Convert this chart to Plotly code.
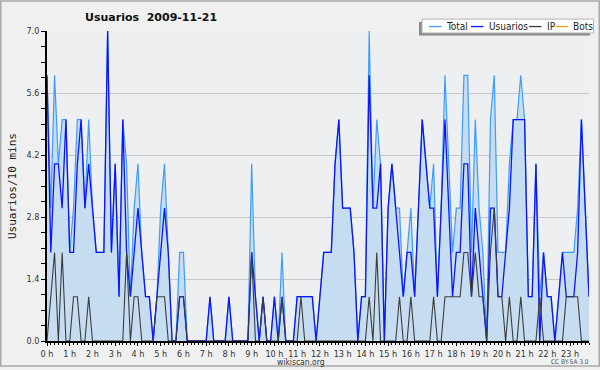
import plotly.graph_objects as go

# ---- data (users per 10-minute slot, 2009-11-21) ----
slots = list(range(144))  # 10-minute slot index, 0 = 00:00
total = [6,3,6,4,5,5,2,3,5,5, 3,5,3,2,2,2,7,2,4,1, 5,4,1,3,4,2,1,1,0,1,
         3,4,2,0,0,2,2,0,0,0, 0,0,0,1,0,0,0,0,1,0, 0,0,0,0,4,1,0,1,0,0,
         1,0,2,0,0,0,1,1,1,1, 1,0,1,2,2,2,4,5,3,3, 3,2,0,1,1,7,3,5,4,0,
         3,4,3,3,1,2,3,1,3,5, 4,3,4,1,3,6,4,2,3,3, 6,6,2,5,3,2,0,5,6,2,
         2,2,4,5,5,6,5,1,1,4, 1,2,1,1,0,1,2,2,2,2, 3,5,3,1]
usuarios = [6,2,4,4,3,5,2,2,4,5, 3,4,3,2,2,2,7,2,4,1, 5,2,1,2,3,2,1,1,0,1,
            2,3,2,0,0,1,1,0,0,0, 0,0,0,1,0,0,0,0,1,0, 0,0,0,0,2,1,0,1,0,0,
            1,0,1,0,0,0,1,1,1,1, 1,0,1,2,2,2,4,5,3,3, 3,2,0,1,1,6,3,3,4,0,
            3,4,3,2,1,2,2,1,3,5, 4,3,3,1,3,5,3,1,2,2, 4,4,1,3,2,1,0,3,3,1,
            1,2,3,5,5,5,5,1,1,4, 0,2,1,1,0,1,2,1,1,1, 2,5,3,1]
ip = [0,1,2,0,2,0,0,1,1,0, 0,1,0,0,0,0,0,0,0,0, 0,2,0,1,1,0,0,0,0,1,
      1,1,0,0,0,1,1,0,0,0, 0,0,0,0,0,0,0,0,0,0, 0,0,0,0,2,0,0,1,0,0,
      0,0,1,0,0,0,0,1,0,0, 0,0,0,0,0,0,0,0,0,0, 0,0,0,0,0,1,0,2,0,0,
      0,0,0,1,0,0,1,0,0,0, 0,0,1,0,0,1,1,1,1,1, 2,2,1,2,1,1,0,2,3,1,
      1,0,1,0,0,1,0,0,0,0, 1,0,0,0,0,0,0,1,1,1, 1,0,0,0]
bots = [0] * 144
hour_ticks = [6 * h for h in range(24)]
hour_labels = [f"{h} h" for h in range(24)]
y_ticks = [0, 1.4, 2.8, 4.2, 5.6, 7.0]
y_labels = ["0.0", "1.4", "2.8", "4.2", "5.6", "7.0"]
series_names = ["Total", "Usuarios", "IP", "Bots"]

# ---- style ----
FONT = "DejaVu Sans Condensed, DejaVu Sans"
C_TOTAL = "#3d9cff"
C_FILL = "#c6ddf1"
C_USU = "#0c14ff"
C_IP = "#3c3c3c"
C_BOTS = "#ffa31a"

W_PX, H_PX = 600, 370
L, R, T, B = 47, 11, 31, 26
PW, PH = W_PX - L - R, H_PX - T - B


def px(x):
    return (x - L) / PW


def py(y):
    return (H_PX - B - y) / PH


fig = go.Figure()
fig.add_trace(go.Scatter(x=slots, y=bots, mode="lines", line=dict(color=C_BOTS, width=1),
                         name="Bots", showlegend=False))
fig.add_trace(go.Scatter(x=slots, y=total, mode="lines", fill="tozeroy", fillcolor=C_FILL,
                         line=dict(color=C_TOTAL, width=1.2), name="Total", showlegend=False))
fig.add_trace(go.Scatter(x=slots, y=usuarios, mode="lines", line=dict(color=C_USU, width=1.3),
                         name="Usuarios", showlegend=False))
fig.add_trace(go.Scatter(x=slots, y=ip, mode="lines", line=dict(color=C_IP, width=1.1),
                         name="IP", showlegend=False))

shapes = []
annotations = []

# outer frame
shapes.append(dict(type="rect", xref="paper", yref="paper", x0=px(0.75), x1=px(599.25),
                   y0=py(0.75), y1=py(369.25), line=dict(color="#a8a8a8", width=1.5),
                   fillcolor="rgba(0,0,0,0)", layer="above"))

# legend box with shadow
shapes.append(dict(type="rect", xref="paper", yref="paper", x0=px(419), x1=px(590),
                   y0=py(22), y1=py(35.5), line=dict(width=0), fillcolor="#8a8a8a", layer="above"))
shapes.append(dict(type="rect", xref="paper", yref="paper", x0=px(422), x1=px(593.5),
                   y0=py(19), y1=py(33), line=dict(color="#b4b4b4", width=1), fillcolor="#ffffff",
                   layer="above"))
leg_items = [(series_names[0], C_TOTAL, 429, 444), (series_names[1], C_USU, 471, 486.5),
             (series_names[2], C_IP, 529, 545), (series_names[3], C_BOTS, 555.5, 571)]
for name, col, lx, tx in leg_items:
    shapes.append(dict(type="line", xref="paper", yref="paper", x0=px(lx), x1=px(lx + 12.5),
                       y0=py(26.5), y1=py(26.5), line=dict(color=col, width=1.3), layer="above"))
    annotations.append(dict(text=name, xref="paper", yref="paper", x=px(tx), y=py(26.5),
                            xanchor="left", yanchor="middle", showarrow=False,
                            font=dict(family=FONT, size=10, color="#222222")))

# title
annotations.append(dict(text="<b>Usuarios\u00a0\u00a02009-11-21</b>", xref="paper", yref="paper",
                        x=px(151), y=py(17), xanchor="center", yanchor="middle", showarrow=False,
                        font=dict(family="DejaVu Sans", size=11, color="#111111")))
# y label
annotations.append(dict(text="Usuarios/10 mins", xref="paper", yref="paper", x=px(12), y=py(187.5),
                        xanchor="center", yanchor="middle", textangle=-90, showarrow=False,
                        font=dict(family="DejaVu Sans Mono", size=11, color="#222222")))
# footer
annotations.append(dict(text="wikiscan.org", xref="paper", yref="paper", x=px(301), y=py(365),
                        xanchor="center", yanchor="middle", showarrow=False, borderpad=0,
                        font=dict(family=FONT, size=8.5, color="#333333")))
annotations.append(dict(text="CC BY-SA 3.0", xref="paper", yref="paper", x=px(590), y=py(365.5),
                        xanchor="right", yanchor="middle", showarrow=False, borderpad=0,
                        font=dict(family=FONT, size=6.5, color="#555555")))

fig.update_layout(
    width=W_PX, height=H_PX,
    margin=dict(l=L, r=R, t=T, b=B, pad=0),
    paper_bgcolor="#f0f0f0",
    plot_bgcolor="#eeeff1",
    showlegend=False,
    shapes=shapes,
    annotations=annotations,
    xaxis=dict(range=[0, 143], tickvals=hour_ticks, ticktext=hour_labels,
               ticks="outside", ticklen=3, tickcolor="#000000", tickwidth=1,
               showline=True, linecolor="#000000", linewidth=1.5, showgrid=False,
               zeroline=False, tickfont=dict(family=FONT, size=9, color="#333333"),
               minor=dict(dtick=1, tick0=0, ticks="outside", ticklen=2.5, tickcolor="#000000",
                          showgrid=False),
               fixedrange=True),
    yaxis=dict(range=[0, 7.0], tickvals=y_ticks, ticktext=y_labels,
               ticks="outside", ticklen=4, tickcolor="#000000", tickwidth=1,
               showline=True, linecolor="#000000", linewidth=1.5,
               showgrid=True, gridcolor="#c8c8c8", gridwidth=1, zeroline=False,
               tickfont=dict(family=FONT, size=9, color="#333333"),
               minor=dict(dtick=0.35, tick0=0, ticks="outside", ticklen=4, tickcolor="#000000",
                          showgrid=False),
               fixedrange=True),
)

fig.write_html("out.html", config={"displayModeBar": False},
               post_script="document.body.style.margin='0';document.body.style.overflow='hidden';")
